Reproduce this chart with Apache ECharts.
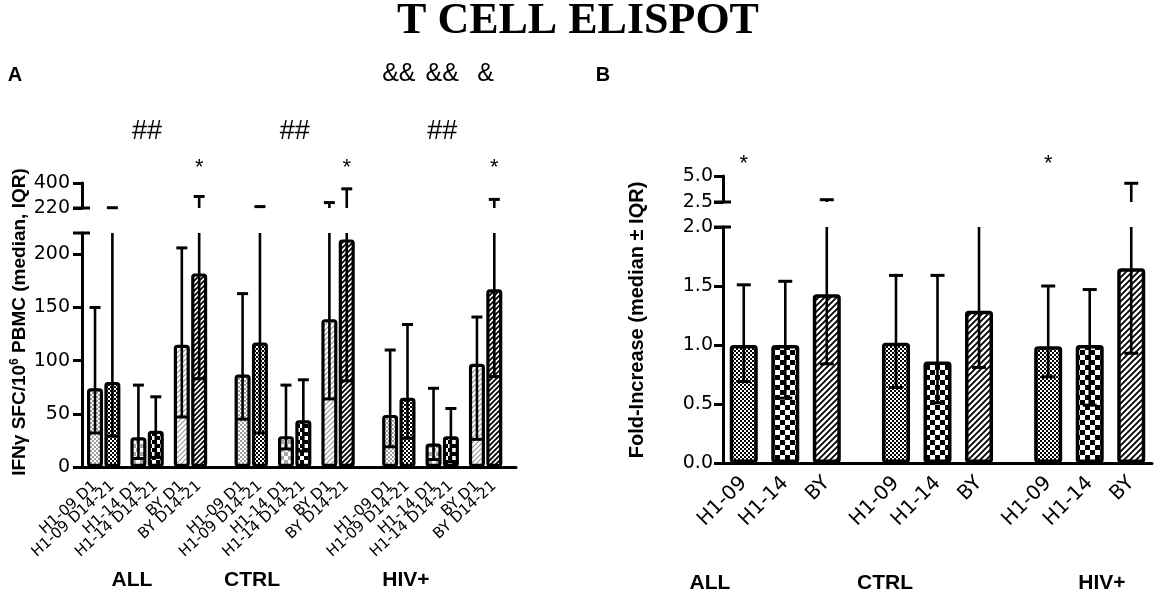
<!DOCTYPE html>
<html>
<head>
<meta charset="utf-8">
<script src="https://cdn.jsdelivr.net/npm/echarts@6/dist/echarts.min.js"></script>
<style>
  html, body { margin: 0; padding: 0; background: #fff; }
  #chart { width: 1158px; height: 595px; }
</style>
</head>
<body>
<div id="chart"></div>
<script>
// 数据
const groups = ['ALL', 'CTRL', 'HIV+'];
const labelsA = ['H1-09 D1', 'H1-09 D14-21', 'H1-14 D1', 'H1-14 D14-21', 'BY D1', 'BY D14-21'];
const medianA = [74, 80, 28, 34, 115, 182, 87, 117, 29, 44, 139, 214, 49, 65, 22, 29, 97, 167];
const lowerA = [32, 29, 8, 9, 47, 83, 45, 32, 17, 15, 64, 81, 19, 27, 7, 5, 26, 85];
const upperA = [150, 222, 77, 66, 206, 303, 163, 230, 77, 82, 259, 358, 110, 134, 74, 55, 141, 282];
const ticksA = [0, 50, 100, 150, 200];
const ticksAUpper = [220, 400];

const labelsB = ['H1-09', 'H1-14', 'BY'];
const medianB = [1.00, 1.00, 1.43, 1.02, 0.86, 1.29, 0.99, 1.00, 1.65];
const lowerB = [0.69, 0.55, 0.84, 0.64, 0.51, 0.81, 0.73, 0.49, 0.93];
const upperB = [1.51, 1.54, 2.72, 1.59, 1.59, 2.2, 1.50, 1.47, 4.3];
const ticksB = [0, 0.5, 1.0, 1.5, 2.0];
const ticksBUpper = [2.5, 5.0];

//图案填充
function checker(size, color) {
  const c = document.createElement('canvas');
  c.width = c.height = size * 2;
  const g = c.getContext('2d');
  g.fillStyle = '#fff';
  g.fillRect(0, 0, size * 2, size * 2);
  g.fillStyle = color;
  g.fillRect(0, 0, size, size);
  g.fillRect(size, size, size, size);
  return { image: c, repeat: 'repeat' };
}
function hatch(step, color, w) {
  const c = document.createElement('canvas');
  c.width = c.height = step;
  const g = c.getContext('2d');
  g.fillStyle = '#fff';
  g.fillRect(0, 0, step, step);
  g.strokeStyle = color;
  g.lineWidth = w;
  g.beginPath();
  g.moveTo(0, step); g.lineTo(step, 0);
  g.moveTo(-2, 2); g.lineTo(2, -2);
  g.moveTo(step - 2, step + 2); g.lineTo(step + 2, step - 2);
  g.stroke();
  return { image: c, repeat: 'repeat' };
}
const fillA = [checker(2, '#a0a0a0'), checker(2, '#000'), checker(4, '#a8a8a8'), checker(4, '#000'), hatch(5, '#999', 1.2), hatch(5, '#000', 1.8)];
const fillB = [checker(2, '#000'), checker(5, '#000'), hatch(6, '#000', 1.8)];

//类别位置(含空位)
function slots(total, starts, offsets) {
  const pos = [];
  starts.forEach(s => offsets.forEach(o => pos.push(s + o)));
  const cats = new Array(total).fill('');
  return { pos, cats };
}
const layA = slots(50, [1, 18, 35], [0, 2, 5, 7, 10, 12]);
groups.forEach((g, gi) => labelsA.forEach((l, li) => { layA.cats[layA.pos[gi * 6 + li]] = l; }));
const layB = slots(31, [1, 12, 23], [0, 3, 6]);
groups.forEach((g, gi) => labelsB.forEach((l, li) => { layB.cats[layB.pos[gi * 3 + li]] = l; }));

function barData(lay, med, fills, n) {
  const d = new Array(lay.cats.length).fill('-');
  med.forEach((v, i) => { d[lay.pos[i]] = { value: v, itemStyle: { color: fills[i % n] } }; });
  return d;
}
function errData(lay, lo, hi) {
  return lo.map((v, i) => [lay.pos[i], v, hi[i]]);
}

const black = { stroke: '#000', lineWidth: 2.6 };
function errLow(top, capW) {
  return function (params, api) {
    const x = api.value(0), lo = api.value(1), hi = api.value(2);
    const a = api.coord([x, lo]);
    const b = api.coord([x, Math.min(hi, top)]);
    const ch = [
      { type: 'line', shape: { x1: a[0], y1: a[1], x2: b[0], y2: b[1] }, style: black },
      { type: 'line', shape: { x1: a[0] - capW / 2, y1: a[1], x2: a[0] + capW / 2, y2: a[1] }, style: { stroke: '#000', lineWidth: 3 } }
    ];
    if (hi <= top) {
      ch.push({ type: 'line', shape: { x1: b[0] - capW / 2, y1: b[1], x2: b[0] + capW / 2, y2: b[1] }, style: { stroke: '#000', lineWidth: 3 } });
    }
    return { type: 'group', children: ch };
  };
}
function errHigh(bottom, capW) {
  return function (params, api) {
    const x = api.value(0), hi = api.value(2);
    if (hi <= bottom) return null;
    const a = api.coord([x, bottom]);
    const b = api.coord([x, hi]);
    return {
      type: 'group', children: [
        { type: 'line', shape: { x1: a[0], y1: a[1], x2: b[0], y2: b[1] }, style: black },
        { type: 'line', shape: { x1: b[0] - capW / 2, y1: b[1], x2: b[0] + capW / 2, y2: b[1] }, style: { stroke: '#000', lineWidth: 3 } }
      ]
    };
  };
}
//断轴标记
function breakMark(params, api) {
  const y = api.coord([0, api.value(1)])[1];
  const x = params.coordSys.x;
  return { type: 'line', shape: { x1: x - 9, y1: y, x2: x + 8, y2: y }, style: { stroke: '#000', lineWidth: 3 } };
}

const tickFont = { color: '#000', fontFamily: 'DejaVu Sans', fontSize: 19 };
const showCat = (i, v) => v !== '';

function xAxisLow(grid, cats, fontSize, rotate, margin) {
  const last = cats.length - 1;
  return {
    type: 'category', gridIndex: grid, data: cats,
    axisLine: { lineStyle: { color: '#000', width: 3 } },
    axisTick: { alignWithLabel: true, interval: showCat, length: 7, lineStyle: { color: '#000', width: 3 } },
    axisLabel: {
      // 首尾空类别参与标签计算, 避免相邻标签被隐藏
      interval: (i, v) => v !== '' || i === 0 || i === last,
      rotate: rotate, margin: margin, color: '#000',
      fontFamily: 'DejaVu Sans', fontSize: fontSize,
      showMinLabel: false, showMaxLabel: false, hideOverlap: false
    }
  };
}
function xAxisHide(grid, cats) {
  return { type: 'category', gridIndex: grid, data: cats, show: false };
}
function yAxis(grid, min, max, ticks, fmt, margin) {
  return {
    type: 'value', gridIndex: grid, min: min, max: max,
    splitLine: { show: false },
    axisLine: { show: true, lineStyle: { color: '#000', width: 3 } },
    axisTick: { show: true, length: 9, customValues: ticks, lineStyle: { color: '#000', width: 3 } },
    axisLabel: Object.assign({ customValues: ticks, margin: margin, formatter: fmt }, tickFont)
  };
}
const fmtInt = v => String(v);
const fmt1 = v => v.toFixed(1);

const chart = echarts.init(document.getElementById('chart'), null, { renderer: 'canvas' });
chart.setOption({
  animation: false,
  backgroundColor: '#fff',
  grid: [
    { left: 82, top: 233, width: 434, height: 234, outerBoundsMode: 'none' },
    { left: 82, top: 183, width: 434, height: 25, outerBoundsMode: 'none' },
    { left: 723, top: 227, width: 429, height: 236, outerBoundsMode: 'none' },
    { left: 723, top: 176, width: 429, height: 26, outerBoundsMode: 'none' }
  ],
  xAxis: [
    xAxisLow(0, layA.cats, 15, 42, 17),
    xAxisHide(1, layA.cats),
    xAxisLow(2, layB.cats, 20, 45, 17),
    xAxisHide(3, layB.cats)
  ],
  yAxis: [
    yAxis(0, 0, 220, ticksA, fmtInt, 12),
    yAxis(1, 220, 400, ticksAUpper, fmtInt, 12),
    yAxis(2, 0, 2.0, ticksB, fmt1, 10),
    yAxis(3, 2.5, 5.0, ticksBUpper, fmt1, 10)
  ],
  series: [
    {
      type: 'bar', xAxisIndex: 0, yAxisIndex: 0, barWidth: 16, z: 2,
      itemStyle: { borderColor: '#000', borderWidth: 3.2, borderRadius: 2 },
      data: barData(layA, medianA, fillA, 6)
    },
    { type: 'custom', xAxisIndex: 0, yAxisIndex: 0, z: 3, renderItem: errLow(220, 11), data: errData(layA, lowerA, upperA) },
    { type: 'custom', xAxisIndex: 1, yAxisIndex: 1, z: 3, renderItem: errHigh(220, 11), data: errData(layA, lowerA, upperA) },
    { type: 'custom', xAxisIndex: 0, yAxisIndex: 0, z: 4, renderItem: breakMark, data: [[0, 220]] },
    { type: 'custom', xAxisIndex: 1, yAxisIndex: 1, z: 4, renderItem: breakMark, data: [[0, 220]] },
    {
      type: 'bar', xAxisIndex: 2, yAxisIndex: 2, barWidth: 28, z: 2,
      itemStyle: { borderColor: '#000', borderWidth: 3.5, borderRadius: 2 },
      data: barData(layB, medianB, fillB, 3)
    },
    { type: 'custom', xAxisIndex: 2, yAxisIndex: 2, z: 3, renderItem: errLow(2.0, 14), data: errData(layB, lowerB, upperB) },
    { type: 'custom', xAxisIndex: 3, yAxisIndex: 3, z: 3, renderItem: errHigh(2.5, 14), data: errData(layB, lowerB, upperB) },
    { type: 'custom', xAxisIndex: 2, yAxisIndex: 2, z: 4, renderItem: breakMark, data: [[0, 2.0]] },
    { type: 'custom', xAxisIndex: 3, yAxisIndex: 3, z: 4, renderItem: breakMark, data: [[0, 2.5]] }
  ]
});

//文字标注
const px = (axis, i) => chart.convertToPixel({ xAxisIndex: axis }, i);
function txt(x, y, text, size, extra) {
  return {
    type: 'text', x: x, y: y, z: 10,
    style: Object.assign({ text: text, fontSize: size, fontFamily: 'Liberation Sans', fill: '#000', align: 'center', verticalAlign: 'middle' }, extra || {})
  };
}
const bold = { fontWeight: 'bold' };
const g = [];
g.push(txt(578, 22, 'T CELL ELISPOT', 44, { fontFamily: 'Liberation Serif', fontWeight: 'bold' }));
g.push(txt(15, 75, 'A', 20, bold));
g.push(txt(603, 75, 'B', 20, bold));
// ## 组间
[0, 1, 2].forEach(gi => {
  const x = (px(0, layA.pos[gi * 6]) + px(0, layA.pos[gi * 6 + 5])) / 2;
  g.push(txt(x, 132, '##', 27));
  g.push(txt(px(0, layA.pos[gi * 6 + 5]), 168, '*', 22));
});
['&&', '&&', '&'].forEach((t, k) => {
  const x = (px(0, layA.pos[12 + k * 2]) + px(0, layA.pos[13 + k * 2])) / 2;
  g.push(txt(x, 74, t, 25));
});
g.push(txt(px(2, layB.pos[0]), 164, '*', 22));
g.push(txt(px(2, layB.pos[6]), 164, '*', 22));
// 分组名称
[132, 252, 406].forEach((x, i) => g.push(txt(x, 580, groups[i], 21, bold)));
[710, 885, 1102].forEach((x, i) => g.push(txt(x, 583, groups[i], 21, bold)));
// y轴名称
g.push({
  type: 'text', x: 20, y: 322, rotation: Math.PI / 2, z: 10,
  style: {
    text: '{b|IFNγ SFC/10}{s|6}{b| PBMC (median, IQR)}',
    align: 'center', verticalAlign: 'middle',
    rich: {
      b: { fontSize: 19, fontWeight: 'bold', fontFamily: 'Liberation Sans', fill: '#000', lineHeight: 22 },
      s: { fontSize: 12, fontWeight: 'bold', fontFamily: 'Liberation Sans', fill: '#000', lineHeight: 12, verticalAlign: 'top' }
    }
  }
});
g.push({
  type: 'text', x: 637, y: 320, rotation: Math.PI / 2, z: 10,
  style: { text: 'Fold-Increase (median ± IQR)', fontSize: 20, fontWeight: 'bold', fontFamily: 'Liberation Sans', fill: '#000', align: 'center', verticalAlign: 'middle' }
});
chart.setOption({ graphic: g });
window.addEventListener('resize', () => { chart.resize(); });
</script>
</body>
</html>
